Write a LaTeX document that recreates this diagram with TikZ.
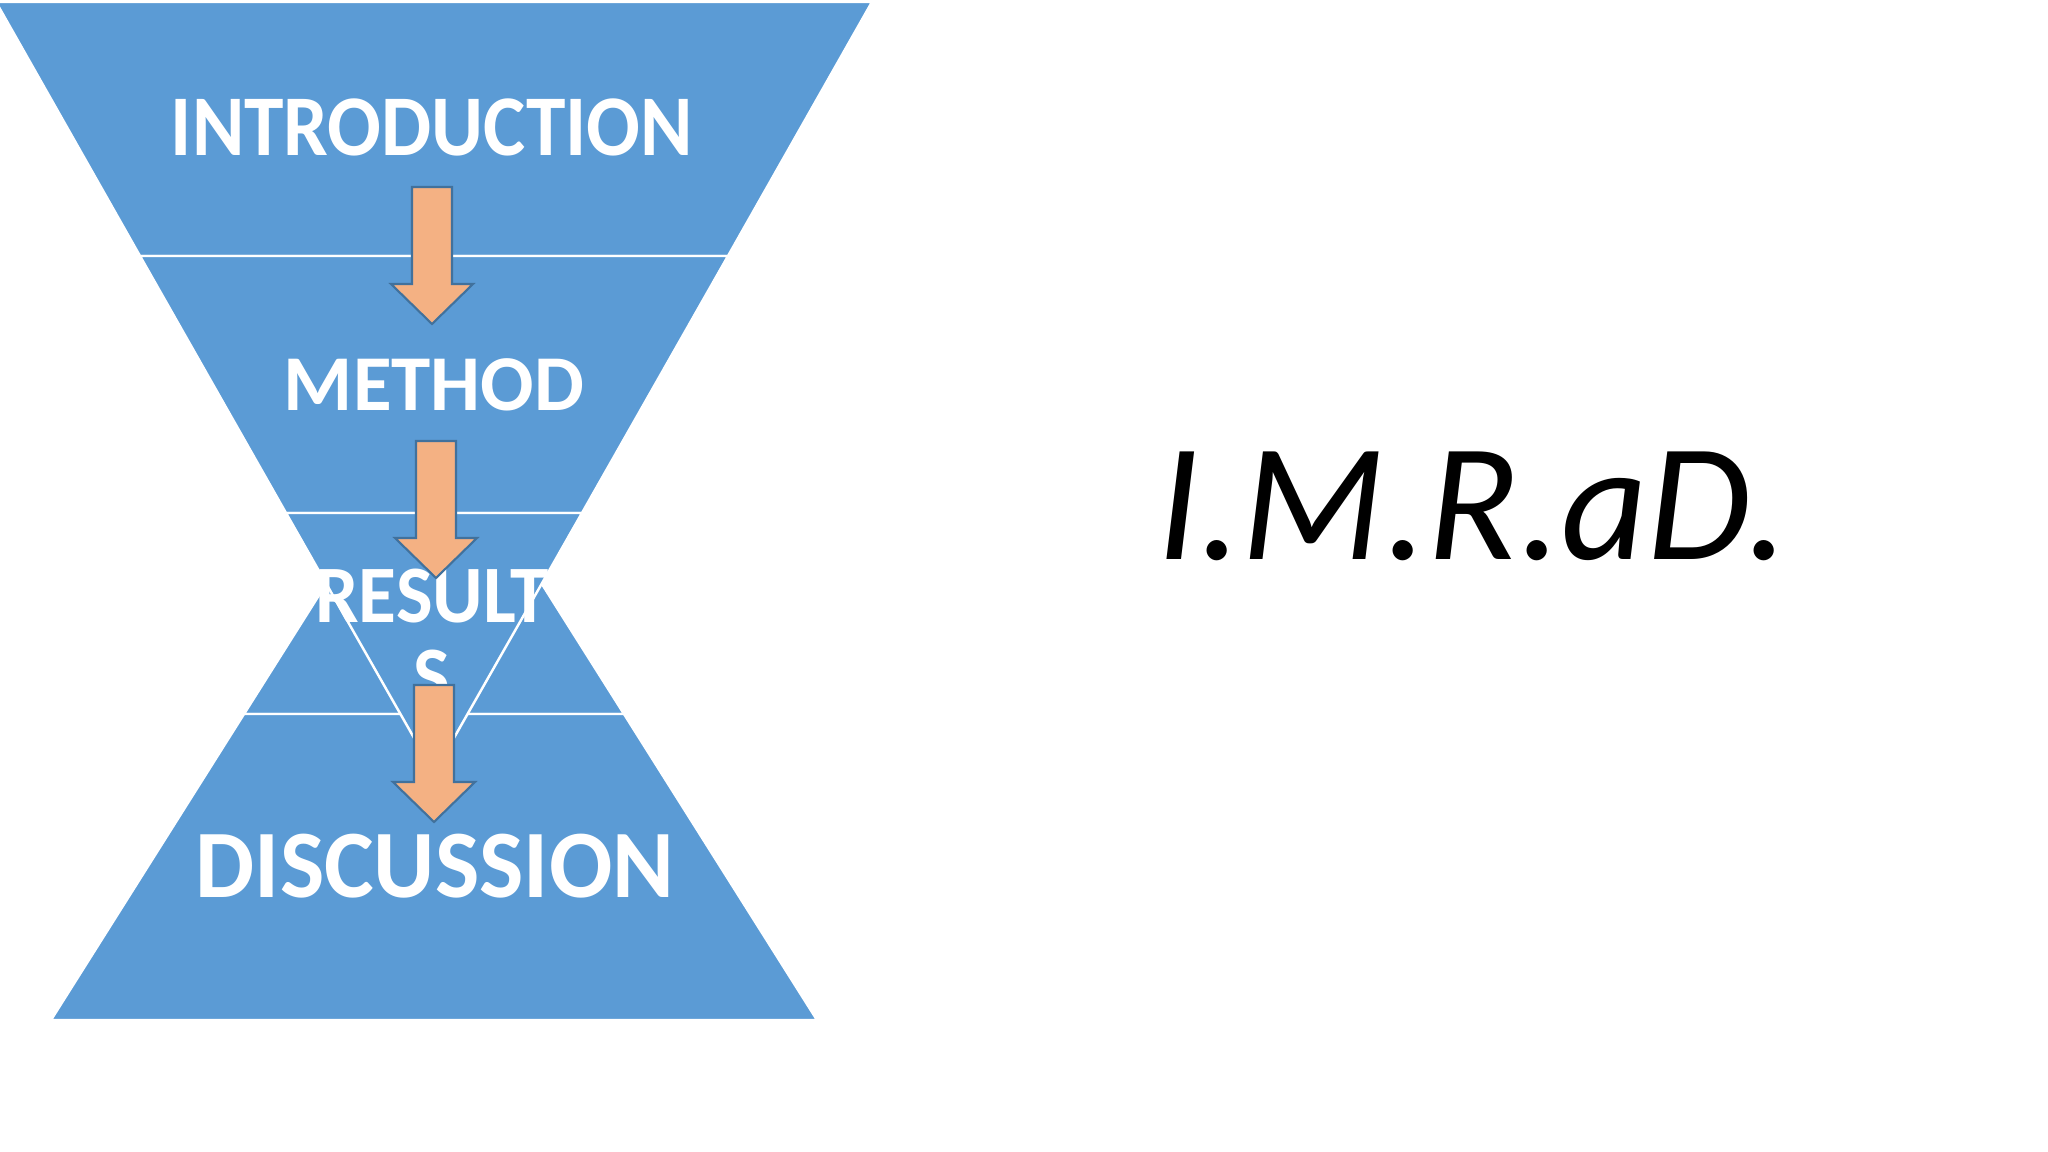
\documentclass[tikz,border=0pt]{standalone}
\usepackage{fontspec}
\setmainfont{Carlito}
\definecolor{segblue}{HTML}{5B9BD5}
\definecolor{arrowfill}{HTML}{F4B183}
\definecolor{arrowline}{HTML}{41719C}
\begin{document}
\begin{tikzpicture}[x=0.01cm,y=-0.01cm,
  seg/.style={fill=segblue,draw=white,line width=0.7pt,line join=miter},
  lbl/.style={text=white,inner sep=0pt,anchor=base,align=center},
  arrowstyle/.style={fill=arrowfill,draw=arrowline,line width=0.6pt,line join=miter},
  blockarrow/.pic={\path[arrowstyle] (-20,0) -- (20,0) -- (20,97) -- (41,97) -- (0,137) -- (-41,97) -- (-20,97) -- cycle;}]
\useasboundingbox[fill=white] (0,0) rectangle (2048,1152);
% upright pyramid (behind)
\path[seg] (434,413) -- (624,714) -- (244,714) -- cycle;
\path[seg] (244,714) -- (624,714) -- (817,1020) -- (51,1020) -- cycle;
% inverted funnel (front)
\path[seg] (-4,2) -- (872,2) -- (728,256) -- (140,256) -- cycle;
\path[seg] (140,256) -- (728,256) -- (582,513) -- (286,513) -- cycle;
\path[seg] (286,513) -- (582,513) -- (434,773) -- cycle;
% labels
\node[lbl,font=\bfseries\fontsize{24.6}{29}\selectfont] (intro) at (432,156) {\scalebox{0.92}[1]{INTRODUCTION}};
\node[lbl,font=\bfseries\fontsize{22.5}{27}\selectfont] (method) at (434,411) {METHOD};
\node[lbl,font=\bfseries\fontsize{23.2}{22.8}\selectfont] (results) at (432,703) {\scalebox{0.95}[1]{RESULT}\\\scalebox{0.95}[1]{S}};
\node[lbl,font=\bfseries\fontsize{27.5}{33}\selectfont] (discussion) at (435,897) {\scalebox{0.97}[1]{DISCUSSION}};
\node[inner sep=0pt,anchor=base,text=black,font=\itshape\fontsize{47.7}{57}\selectfont] (imrad) at (1473,560) {I.M.R.aD.};
% block arrows
\pic at (432,187) {blockarrow};
\pic at (436,441) {blockarrow};
\pic at (434,685) {blockarrow};
\end{tikzpicture}
\end{document}
